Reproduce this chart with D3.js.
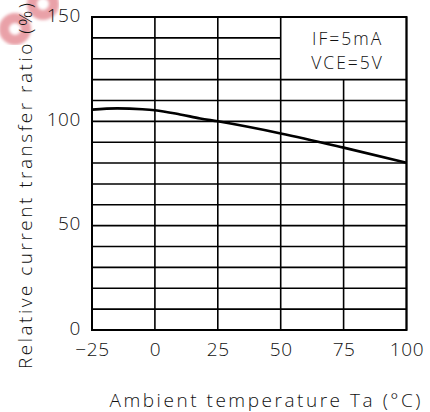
<!DOCTYPE html>
<html>
<head>
<meta charset="utf-8">
<script src="https://cdn.jsdelivr.net/npm/d3@7"></script>
<style>
  body { margin: 0; background: #fff; }
  svg { display: block; font-family: 'Open Sans', 'DejaVu Sans', sans-serif; font-weight: 300; }
</style>
</head>
<body>
<svg id="canvas"></svg>
<script>
const width = 430;
const height = 412;
const margin = { top: 17, right: 23.5, bottom: 82, left: 92 };

// curve
const temps = [-25, -15, -5, 0, 10, 18, 25, 50, 75, 100];
const ratios = [105.6, 106.2, 105.8, 105.3, 103.3, 101.4, 100, 94.2, 87.4, 80.2];

const xTicks = [-25, 0, 25, 50, 75, 100];
const yTicks = [0, 50, 100, 150];
const yGrid = d3.range(0, 151, 10);
const legendLines = ['IF=5mA', 'VCE=5V'];

const svg = d3.select('#canvas').attr('width', width).attr('height', height);

// pink watermark rings in the corner (blurred)
const defs = svg.append('defs');
defs.append('filter').attr('id', 'blur')
  .append('feGaussianBlur').attr('stdDeviation', 1.5);
const mark = svg.append('g')
  .attr('fill', 'none')
  .attr('stroke', '#e9a1a8')
  .attr('stroke-width', 10)
  .attr('filter', 'url(#blur)');
mark.append('circle').attr('cx', 15).attr('cy', 29).attr('r', 11);
mark.append('circle').attr('cx', 43).attr('cy', 4).attr('r', 11);

const x = d3.scaleLinear().domain([-25, 100]).range([margin.left, width - margin.right]);
const y = d3.scaleLinear().domain([0, 150]).range([height - margin.bottom, margin.top]);

const grid = svg.append('g').attr('stroke', '#000').attr('stroke-width', 1.6);

// horizontal lines, cut short where the legend box sits
yGrid.forEach((v) => {
  const x2 = v > 120 ? x(50) : x(100);
  grid.append('line')
    .attr('x1', x(-25)).attr('x2', x2)
    .attr('y1', y(v)).attr('y2', y(v));
});

// vertical lines
xTicks.forEach((t) => {
  const top = t === 75 ? y(120) : y(150);
  grid.append('line')
    .attr('x1', x(t)).attr('x2', x(t))
    .attr('y1', y(0)).attr('y2', top);
});

// plot frame
svg.append('rect')
  .attr('x', x(-25)).attr('y', y(150))
  .attr('width', x(100) - x(-25)).attr('height', y(0) - y(150))
  .attr('fill', 'none').attr('stroke', '#000').attr('stroke-width', 2);

// legend text
svg.append('g').selectAll('text')
  .data(legendLines)
  .enter()
  .append('text')
  .attr('x', (x(50) + x(100)) / 2 + 4)
  .attr('y', (d, i) => 44.5 + i * 24)
  .attr('text-anchor', 'middle')
  .attr('font-size', 17.5)
  .attr('letter-spacing', 2)
  .attr('fill', '#111')
  .text((d) => d);

// the curve
const line = d3.line()
  .x((d) => x(d[0]))
  .y((d) => y(d[1]))
  .curve(d3.curveMonotoneX);

svg.append('path')
  .datum(temps.map((t, i) => [t, ratios[i]]))
  .attr('d', line)
  .attr('fill', 'none')
  .attr('stroke', '#000')
  .attr('stroke-width', 2.6);

// axes
const xAxis = d3.axisBottom(x).tickValues(xTicks).tickSize(0).tickPadding(13)
  .tickFormat((d) => (d < 0 ? '\u2212' + Math.abs(d) : d));
const yAxis = d3.axisLeft(y).tickValues(yTicks).tickSize(0).tickPadding(11);

svg.append('g')
  .attr('transform', `translate(0, ${y(0)})`)
  .call(xAxis)
  .call((g) => g.select('.domain').remove())
  .selectAll('text')
  .attr('font-size', 19)
  .attr('letter-spacing', 0.6)
  .attr('fill', '#111');

svg.append('g')
  .attr('transform', `translate(${x(-25)}, 0)`)
  .call(yAxis)
  .call((g) => g.select('.domain').remove())
  .selectAll('text')
  .attr('font-size', 19)
  .attr('letter-spacing', 0.6)
  .attr('dy', '0.22em')
  .attr('fill', '#111');

// let the axis groups take the page font
svg.selectAll('g[font-family]').attr('font-family', null);

// axis titles
svg.append('text')
  .attr('x', 265).attr('y', 407)
  .attr('text-anchor', 'middle')
  .attr('font-size', 19)
  .attr('textLength', 311)
  .attr('lengthAdjust', 'spacing')
  .attr('fill', '#111')
  .text('Ambient temperature Ta (°C)');

svg.append('text')
  .attr('transform', 'translate(32, 186) rotate(-90)')
  .attr('text-anchor', 'middle')
  .attr('font-size', 19)
  .attr('textLength', 366)
  .attr('lengthAdjust', 'spacing')
  .attr('fill', '#111')
  .text('Relative current transfer ratio (%)');
</script>
</body>
</html>
